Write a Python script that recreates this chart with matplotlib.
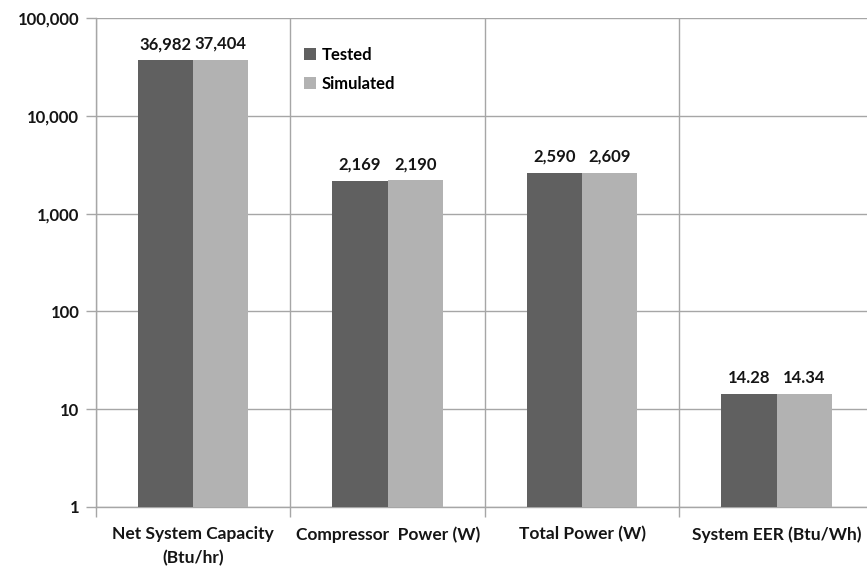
import numpy as np
import matplotlib.pyplot as plt
from matplotlib.ticker import FixedLocator, FuncFormatter, NullFormatter

plt.rcParams['font.family'] = ['Lato', 'DejaVu Sans']
plt.rcParams['font.weight'] = 'bold'

categories = ['Net System Capacity\n(Btu/hr)', 'Compressor  Power (W)',
              'Total Power (W)', 'System EER (Btu/Wh)']
tested = [36982, 2169, 2590, 14.28]
simulated = [37404, 2190, 2609, 14.34]
tested_labels = ['36,982', '2,169', '2,590', '14.28']
simulated_labels = ['37,404', '2,190', '2,609', '14.34']

dark = '#606060'
light = '#b2b2b2'
grid_col = '#a6a6a6'
txt = '#151515'

fig = plt.figure(figsize=(8.67, 5.68), dpi=100)
# plot area runs a little past the right edge of the canvas
ax = fig.add_axes([0.1107, 0.1074, 0.8973, 0.8606])

x = np.arange(len(categories))
w = 0.284
b1 = ax.bar(x - w / 2, tested, w, color=dark, label='Tested', zorder=3)
b2 = ax.bar(x + w / 2, simulated, w, color=light, label='Simulated', zorder=3)

ax.set_yscale('log')
ax.set_ylim(1, 100000)
ax.set_xlim(-0.5, len(categories) - 0.5)

# value labels over each bar
for bars, labels in ((b1, tested_labels), (b2, simulated_labels)):
    for r, t in zip(bars, labels):
        ax.annotate(t, (r.get_x() + r.get_width() / 2, r.get_height()),
                    xytext=(0, 6), textcoords='offset points',
                    ha='center', va='bottom', fontsize=12, fontweight='bold',
                    color=txt)

ax.yaxis.set_major_locator(FixedLocator([1, 10, 100, 1000, 10000, 100000]))
ax.yaxis.set_minor_locator(FixedLocator([]))
ax.yaxis.set_major_formatter(FuncFormatter(lambda v, p: f'{int(round(v)):,}'))
ax.tick_params(axis='y', which='major', length=7, color=grid_col, width=1,
               labelsize=12, pad=5, labelcolor=txt)

ax.set_xticks(x)
ax.set_xticklabels(categories, linespacing=1.55)
ax.xaxis.set_minor_locator(FixedLocator(np.arange(-0.5, len(categories), 1.0)))
ax.xaxis.set_minor_formatter(NullFormatter())
ax.tick_params(axis='x', which='major', length=0, labelsize=12.5, pad=14,
               labelcolor=txt)
ax.tick_params(axis='x', which='minor', length=7, color=grid_col, width=1)

ax.grid(axis='y', which='major', color=grid_col, linewidth=1, zorder=0)
ax.grid(axis='x', which='minor', color=grid_col, linewidth=1, zorder=0)
ax.set_axisbelow(True)

ax.spines['top'].set_visible(False)
ax.spines['right'].set_visible(False)
for side in ('left', 'bottom'):
    ax.spines[side].set_color(grid_col)
    ax.spines[side].set_linewidth(1)

ax.legend(loc='upper left', bbox_to_anchor=(0.248, 0.972), frameon=False,
          fontsize=12, handlelength=0.75, handleheight=0.75,
          handletextpad=0.3, labelspacing=0.8)

plt.savefig('out.png', dpi=100)
